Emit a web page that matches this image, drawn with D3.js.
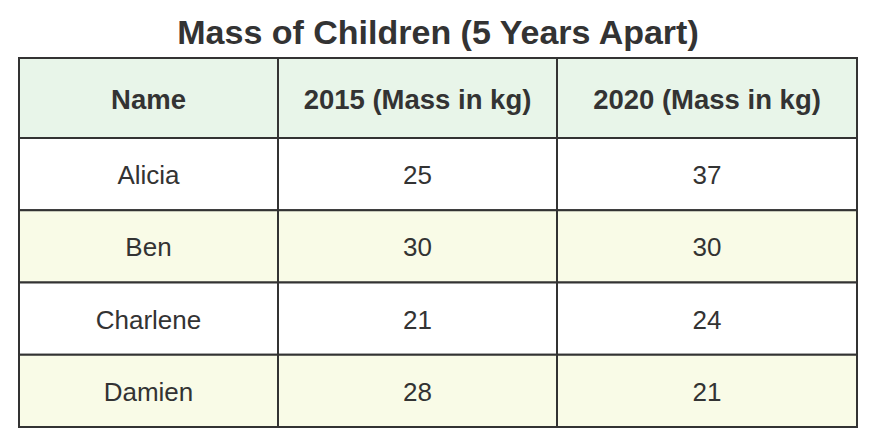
<!DOCTYPE html>
<html>
<head>
<meta charset="utf-8">
<script src="https://cdn.jsdelivr.net/npm/d3@7"></script>
<style>
  html, body { margin: 0; padding: 0; background: #fff; }
  svg { display: block; font-family: "Liberation Sans", Arial, sans-serif; }
</style>
</head>
<body>
<div id="table"></div>
<script>
const title = "Mass of Children (5 Years Apart)";
const columns = ["Name", "2015 (Mass in kg)", "2020 (Mass in kg)"];
const names = ["Alicia", "Ben", "Charlene", "Damien"];
const mass2015 = [25, 30, 21, 28];
const mass2020 = [37, 30, 24, 21];

(function () {
  const width = 876, height = 447;
  const left = 19, right = 857, top = 58, headerBottom = 138, bottom = 427;
  const colEdges = [left, 278, 557, right];

  const rows = names.map((n, i) => [n, mass2015[i], mass2020[i]]);

  const svg = d3.select("#table")
    .append("svg")
    .attr("width", width)
    .attr("height", height)
    .attr("viewBox", `0 0 ${width} ${height}`);

  svg.append("text")
    .attr("x", width / 2)
    .attr("y", 32)
    .attr("dy", "0.35em")
    .attr("text-anchor", "middle")
    .attr("font-size", 34)
    .attr("font-weight", "bold")
    .attr("fill", "#333")
    .text(title);

  const y = d3.scaleBand()
    .domain(d3.range(rows.length))
    .range([headerBottom, bottom]);

  const colX = i => colEdges[i];
  const colW = i => colEdges[i + 1] - colEdges[i];

  // header
  const header = svg.append("g");
  header.selectAll("rect")
    .data(columns)
    .join("rect")
    .attr("x", (d, i) => colX(i))
    .attr("y", top)
    .attr("width", (d, i) => colW(i))
    .attr("height", headerBottom - top)
    .attr("fill", "#e8f5e9")
    .attr("stroke", "#333")
    .attr("stroke-width", 2);

  header.selectAll("text")
    .data(columns)
    .join("text")
    .attr("x", (d, i) => colX(i) + colW(i) / 2)
    .attr("y", (top + headerBottom) / 2 + 1)
    .attr("dy", "0.35em")
    .attr("text-anchor", "middle")
    .attr("font-size", 27.5)
    .attr("font-weight", "bold")
    .attr("fill", "#333")
    .text(d => d);

  // body
  const rowG = svg.append("g").selectAll("g")
    .data(rows)
    .join("g")
    .attr("transform", (d, i) => `translate(0,${y(i)})`);

  rowG.selectAll("rect")
    .data((d, i) => d.map(v => ({ v, i })))
    .join("rect")
    .attr("x", (d, j) => colX(j))
    .attr("y", 0)
    .attr("width", (d, j) => colW(j))
    .attr("height", y.bandwidth())
    .attr("fill", d => d.i % 2 === 1 ? "#f9fbe7" : "#fff")
    .attr("stroke", "#333")
    .attr("stroke-width", 2);

  rowG.selectAll("text")
    .data(d => d)
    .join("text")
    .attr("x", (d, j) => colX(j) + colW(j) / 2)
    .attr("y", y.bandwidth() / 2 + 1)
    .attr("dy", "0.35em")
    .attr("text-anchor", "middle")
    .attr("font-size", 26)
    .attr("fill", "#333")
    .text(d => d);
})();
</script>
</body>
</html>
